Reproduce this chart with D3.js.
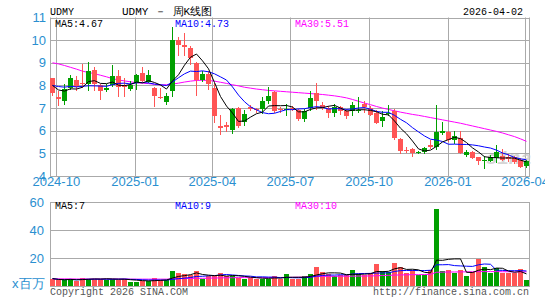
<!DOCTYPE html>
<html>
<head>
<meta charset="utf-8">
<script src="https://cdn.jsdelivr.net/npm/d3@7"></script>
<style>
body { margin: 0; background: #fff; }
svg { display: block; }
text { font-family: "Liberation Mono", "DejaVu Sans Mono", monospace; }
.axl { font-family: "Liberation Sans", Arial, sans-serif; font-size: 13px; fill: #2a8fd0; }
</style>
</head>
<body>
<svg width="545" height="300"></svg>
<script>
// weekly candles, first week ending 2024-09-26, last 2026-04-02
var firstWeek = "2024-09-26";
var opens = [8.31,7.5,7.3,7.9,8.25,8.1,8.05,8.7,8.0,7.8, 8.0,8.4,8.0,7.85,8.1,8.55,8.15,7.9,7.48,7.25,
  7.75,10.0,9.78,9.65,9.0,8.25,8.5,7.9,6.2,6.25, 6.05,7.0,6.4,7.05,6.95,6.95,7.3,7.7,6.98,6.9,
  7.0,6.9,6.5,7.0,7.65,7.15,7.0,6.8,7.05,6.85, 6.85,6.88,7.2,7.0,6.8,6.45,6.72,6.85,5.65,5.17,
  5.2,5.02,5.05,5.35,5.3,5.92,5.93,5.6,5.7,4.92, 5.08,4.82,4.66,4.65,4.8,4.87,4.85,4.85,4.72,4.42];
var closes = [7.65,7.4,7.85,8.35,7.95,8.05,8.65,8.05,7.75,7.9, 8.4,7.95,7.95,8.0,8.45,8.2,8.45,7.55,7.45,7.55,
  10.0,9.8,9.68,9.2,8.25,8.5,8.05,6.65,6.1,6.15, 6.95,6.2,6.75,6.95,6.9,7.3,7.55,6.85,6.92,6.95,
  6.95,6.5,6.85,7.45,7.3,7.0,6.8,7.05,6.85,6.65, 7.15,6.93,7.05,6.7,6.35,6.6,6.8,5.7,5.1,5.12,
  5.0,5.06,5.25,5.28,5.95,5.98,5.58,5.75,5.0,5.08, 4.8,4.68,4.7,4.82,5.04,4.72,4.73,4.62,4.38,4.67];
var highs = [8.35,7.75,8.05,8.45,8.4,8.95,9.05,8.8,8.05,8.05, 8.9,8.7,8.35,8.2,8.5,8.8,8.7,7.95,7.9,7.65,
  10.6,10.15,10.3,9.75,9.05,8.65,8.65,8.1,6.7,6.4, 7.0,7.05,6.92,7.15,7.0,7.5,7.95,7.75,7.05,7.2,
  7.1,6.95,6.95,7.75,8.1,7.25,7.1,7.2,7.1,6.95, 7.25,7.5,7.3,7.1,6.9,6.85,7.15,6.95,5.68,5.3,
  5.22,5.1,5.3,5.6,7.13,6.4,5.98,6.0,6.0,5.15, 5.12,4.85,4.9,4.92,5.35,5.2,4.95,4.9,4.8,4.72];
var lows = [7.55,7.1,7.15,7.8,7.75,7.9,7.75,7.75,7.35,7.7, 7.95,7.5,7.5,7.75,7.8,8.15,8.1,7.05,7.4,7.15,
  7.5,9.3,9.3,8.9,7.55,8.15,7.8,6.35,5.8,5.95, 5.85,6.1,6.2,6.85,6.8,6.75,7.2,6.8,6.8,6.65,
  6.85,6.45,6.4,6.85,6.9,6.9,6.55,6.6,6.7,6.5, 6.65,6.8,6.8,6.65,6.3,6.15,6.65,5.6,4.95,5.0,
  4.85,4.98,4.98,5.2,5.15,5.8,5.5,5.42,4.98,4.85, 4.75,4.5,4.3,4.6,4.58,4.65,4.6,4.55,4.35,4.35];
var priorCloses = [7.9,8.1,8.0,8.2,7.8,8.4,8.1,7.85,8.0];
var ma30 = [9.0,8.95,8.88,8.8,8.72,8.63,8.57,8.52,8.45,8.38, 8.3,8.24,8.2,8.16,8.12,8.1,8.08,8.05,8.02,8.03,
  8.06,8.1,8.15,8.19,8.22,8.23,8.22,8.19,8.14,8.09, 8.03,7.98,7.92,7.88,7.84,7.81,7.78,7.76,7.74,7.72,
  7.7,7.68,7.66,7.64,7.62,7.6,7.57,7.54,7.5,7.45, 7.38,7.3,7.22,7.15,7.07,7.0,6.94,6.88,6.82,6.77,
  6.72,6.68,6.63,6.58,6.53,6.48,6.43,6.38,6.33,6.27, 6.21,6.15,6.09,6.03,5.97,5.9,5.82,5.74,5.64,5.53];

// volume, millions
var volumes = [5.3,4.1,4.1,5.3,3.4,6.0,5.3,5.3,4.8,4.5, 5.3,4.5,5.3,2.9,2.9,3.6,3.6,6.0,4.1,4.1,
  10.5,9.5,8.8,7.6,10.5,4.8,7.1,7.1,9.1,7.1, 7.1,6.0,5.3,6.0,5.3,5.3,5.3,6.9,5.3,8.4,
  5.3,5.3,6.9,8.4,13.4,9.8,8.4,6.9,7.6,7.6, 11.2,8.4,7.6,9.1,15.5,10.5,9.8,16.4,13.4,9.1,
  11.2,7.6,7.6,11.2,54.8,10.5,11.2,9.1,11.2,6.9, 9.8,19.1,13.4,9.1,12.6,9.1,9.1,9.1,11.9,4.1];
var volMa30 = [5.1,5.1,5.1,5.1,5.0,5.0,5.0,5.0,5.0,5.0, 5.0,5.0,5.0,4.9,4.9,4.9,4.9,4.9,4.9,4.9,
  5.1,5.2,5.3,5.4,5.5,5.5,5.6,5.7,5.8,5.9, 5.9,6.0,6.0,6.0,6.0,6.0,6.0,6.0,6.1,6.1,
  6.2,6.3,6.4,6.6,6.8,6.9,6.9,6.9,7.0,7.0, 7.0,7.1,7.1,7.2,7.3,7.5,7.6,7.8,7.9,8.0,
  8.1,8.1,8.2,8.3,9.8,9.9,10.0,10.0,10.1,10.1, 10.2,10.3,10.3,10.3,10.3,10.2,10.2,10.1,10.1,10.1];

var priceTicks = [4,5,6,7,8,9,10,11];
var volTicks = [0,20,40,60];
var monthTicks = ["2024-10-01","2025-01-01","2025-04-01","2025-07-01","2025-10-01","2026-01-01","2026-04-01"];
var monthLabels = ["2024-10","2025-01","2025-04","2025-07","2025-10","2026-01","2026-04"];

var UP = "#009f00", DOWN = "#ff5555", GRID = "#aaaaaa", AXIS = "#2a8fd0";

var parse = d3.timeParse("%Y-%m-%d");
var dates = closes.map(function (d, i) { return d3.timeDay.offset(parse(firstWeek), 7 * i); });

function movingAvg(values, prior, n) {
    var all = prior.concat(values);
    return values.map(function (d, i) {
        var end = i + prior.length + 1;
        var win = all.slice(Math.max(0, end - n), end);
        return d3.mean(win);
    });
}

var ma5 = movingAvg(closes, priorCloses, 5),
    ma10 = movingAvg(closes, priorCloses, 10);
var volMa5 = movingAvg(volumes, [], 5),
    volMa10 = movingAvg(volumes, [], 10);

var svg = d3.select("svg");
var left = 50, right = 529;

var x = d3.scaleTime()
    .domain([d3.timeHour.offset(dates[0], -84), d3.timeHour.offset(dates[dates.length - 1], 84)])
    .range([49, 529]);
var y = d3.scaleLinear().domain([4, 11]).range([176, 17.5]);
var yv = d3.scaleLinear().domain([0, 60]).range([286, 202]);

function cx(i) { return Math.round(x(dates[i])); }
function crisp(v) { return Math.round(v) + 0.5; }

// ---- price panel grid
var g = svg.append("g");
g.selectAll(".hgrid")
    .data(priceTicks)
    .enter().append("line")
    .attr("x1", left).attr("x2", right)
    .attr("y1", function (d) { return crisp(y(d)); })
    .attr("y2", function (d) { return crisp(y(d)); })
    .attr("stroke", GRID);

g.selectAll(".vgrid")
    .data(monthTicks)
    .enter().append("line")
    .attr("x1", function (d) { return crisp(x(parse(d))); })
    .attr("x2", function (d) { return crisp(x(parse(d))); })
    .attr("y1", y(11)).attr("y2", y(4))
    .attr("stroke", GRID);

[left, right].forEach(function (v) {
    g.append("line").attr("x1", v + 0.5).attr("x2", v + 0.5)
        .attr("y1", y(11)).attr("y2", y(4) + 1).attr("stroke", GRID);
});

g.selectAll(".ylab")
    .data(priceTicks)
    .enter().append("text")
    .attr("class", "axl")
    .attr("x", 46)
    .attr("y", function (d) { return y(d) + 4.5; })
    .attr("text-anchor", "end")
    .text(function (d) { return d; });

g.selectAll(".xlab")
    .data(monthTicks)
    .enter().append("text")
    .attr("class", "axl")
    .attr("x", function (d) { return x(parse(d)); })
    .attr("y", 186)
    .attr("text-anchor", "middle")
    .text(function (d, i) { return monthLabels[i]; });

// watermark
svg.append("text")
    .attr("x", 486).attr("y", 164)
    .attr("font-family", "Liberation Sans, sans-serif")
    .attr("font-size", 19).attr("font-style", "italic").attr("font-weight", "bold")
    .attr("fill", "#c8c8c8").attr("opacity", 0.75)
    .text("sina");

// ---- candles
var ma30Line = d3.line()
    .x(function (d, i) { return cx(i) + 0.5; })
    .y(function (d) { return y(d); });

svg.append("path").datum(ma30).attr("d", ma30Line)
    .attr("fill", "none").attr("stroke", "#ff00ff").attr("stroke-width", 1);

var idx = d3.range(closes.length);
var candle = svg.append("g").selectAll("g")
    .data(idx)
    .enter().append("g");

candle.append("line")
    .attr("x1", function (i) { return cx(i) + 0.5; })
    .attr("x2", function (i) { return cx(i) + 0.5; })
    .attr("y1", function (i) { return Math.round(y(highs[i])); })
    .attr("y2", function (i) { return Math.round(y(lows[i])); })
    .attr("stroke", function (i) { return closes[i] >= opens[i] ? UP : DOWN; });

candle.append("rect")
    .attr("x", function (i) { return cx(i) - 2; })
    .attr("width", 5)
    .attr("y", function (i) { return Math.round(y(Math.max(opens[i], closes[i]))); })
    .attr("height", function (i) {
        return Math.max(1, Math.round(y(Math.min(opens[i], closes[i]))) - Math.round(y(Math.max(opens[i], closes[i]))));
    })
    .attr("fill", function (i) { return closes[i] >= opens[i] ? UP : DOWN; });

svg.append("path").datum(ma10).attr("d", ma30Line)
    .attr("fill", "none").attr("stroke", "#0000ff").attr("stroke-width", 1);
svg.append("path").datum(ma5).attr("d", ma30Line)
    .attr("fill", "none").attr("stroke", "#000").attr("stroke-width", 1);

// ---- volume panel
var gv = svg.append("g");
gv.selectAll(".vh")
    .data(volTicks)
    .enter().append("line")
    .attr("x1", left).attr("x2", right)
    .attr("y1", function (d) { return crisp(yv(d)); })
    .attr("y2", function (d) { return crisp(yv(d)); })
    .attr("stroke", GRID);
[left, right].forEach(function (v) {
    gv.append("line").attr("x1", v + 0.5).attr("x2", v + 0.5)
        .attr("y1", yv(60)).attr("y2", yv(0) + 1).attr("stroke", GRID);
});

gv.selectAll(".vlab")
    .data(volTicks.filter(function (d) { return d > 0; }))
    .enter().append("text")
    .attr("class", "axl")
    .attr("x", 44)
    .attr("y", function (d) { return yv(d) + 4.5; })
    .attr("text-anchor", "end")
    .text(function (d) { return d; });

gv.append("text").attr("class", "axl")
    .attr("x", 12).attr("y", 288)
    .text("x百万");

gv.selectAll(".vbar")
    .data(idx)
    .enter().append("rect")
    .attr("x", function (i) { return cx(i) - 2; })
    .attr("width", 5)
    .attr("y", function (i) { return Math.round(yv(volumes[i])); })
    .attr("height", function (i) { return Math.round(yv(0)) - Math.round(yv(volumes[i])); })
    .attr("fill", function (i) { return closes[i] >= opens[i] ? UP : DOWN; });

var volLine = d3.line()
    .x(function (d, i) { return cx(i) + 0.5; })
    .y(function (d) { return yv(d); });

gv.append("path").datum(volMa30).attr("d", volLine)
    .attr("fill", "none").attr("stroke", "#ff00ff");
gv.append("path").datum(volMa10).attr("d", volLine)
    .attr("fill", "none").attr("stroke", "#0000ff");
gv.append("path").datum(volMa5).attr("d", volLine)
    .attr("fill", "none").attr("stroke", "#000");

// ---- labels
function label(txt, px, py, col, anchor) {
    svg.append("text")
        .attr("x", px).attr("y", py)
        .attr("font-size", 10)
        .attr("fill", col)
        .attr("text-anchor", anchor || "start")
        .text(txt);
}

label("UDMY", 50, 15, "#000");
label("2026-04-02", 523, 15, "#000", "end");
svg.append("text")
    .attr("x", 122).attr("y", 15)
    .attr("font-size", 11)
    .attr("font-family", "Liberation Mono, Noto Sans CJK SC, monospace")
    .attr("fill", "#000")
    .text("UDMY － 周K线图");

label("MA5:4.67", 55, 27, "#000");
label("MA10:4.73", 175, 27, "#0000ff");
label("MA30:5.51", 295, 27, "#ff00ff");

label("MA5:7", 55, 209, "#000");
label("MA10:9", 175, 209, "#0000ff");
label("MA30:10", 295, 209, "#ff00ff");

label("Copyright 2026 SINA.COM", 50, 295, "#555");
label("http://finance.sina.com.cn", 529, 295, "#555", "end");
</script>
</body>
</html>
